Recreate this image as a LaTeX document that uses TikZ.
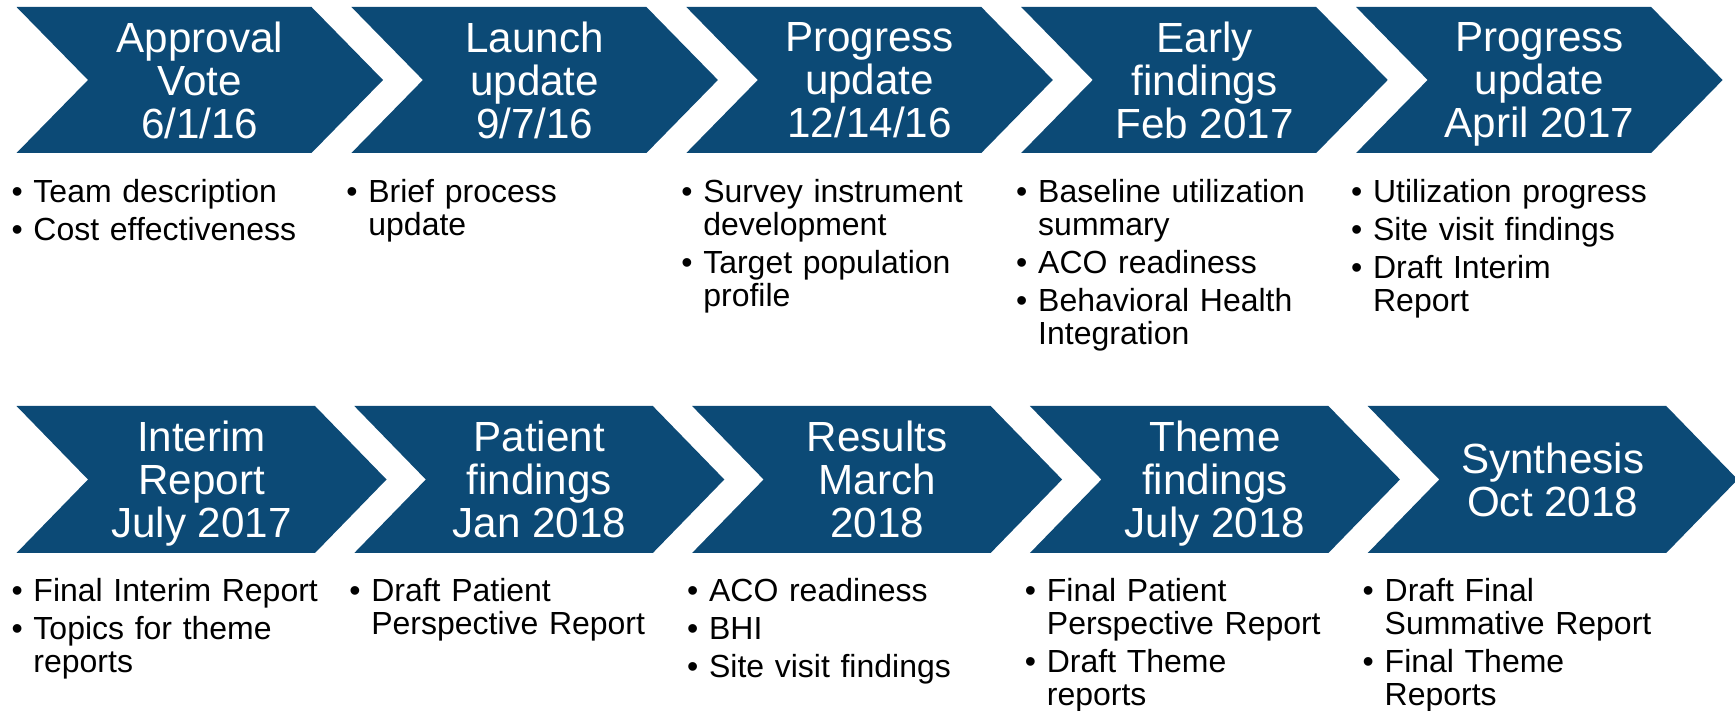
\documentclass[tikz,border=0pt]{standalone}
\usepackage{fontspec}
\setmainfont{Liberation Sans}
\usepackage{tikz}
\usetikzlibrary{positioning}

\definecolor{chevblue}{RGB}{12,74,118}

\newcommand{\bul}[1]{\par\hangindent=0.22cm\hangafter=1\noindent\makebox[0.22cm][l]{\textbullet}#1\par}

\tikzset{
  chev/.style={minimum width=3.665cm, minimum height=1.46cm, inner sep=0pt,
    align=center, text=white, text depth=0pt, font=\fontsize{12}{12.2}\selectfont,
    path picture={\fill[chevblue] (path picture bounding box.north west)
      -- ([xshift=-0.715cm]path picture bounding box.north east)
      -- (path picture bounding box.east)
      -- ([xshift=-0.715cm]path picture bounding box.south east)
      -- (path picture bounding box.south west)
      -- ([xshift=0.715cm]path picture bounding box.west) -- cycle;}},
  notes/.style={inner sep=0pt, text width=3.4cm, align=left, xshift=-0.05cm,
    font=\fontsize{9.1}{9.4}\selectfont\setlength{\parskip}{1.5pt}},
}

\begin{document}
\begin{tikzpicture}
\useasboundingbox (0,0) rectangle (17.35,-7.11);

% top row
\node (approval) [chev] at (1.9975,-0.80) {Approval\\Vote\\6/1/16};
\node (launch) [chev, right=-0.33cm of approval] {Launch\\update\\9/7/16};
\node (progress1) [chev, right=-0.33cm of launch] {Progress\\update\\12/14/16};
\node (early) [chev, right=-0.33cm of progress1] {Early\\findings\\Feb 2017};
\node (progress2) [chev, right=-0.33cm of early] {Progress\\update\\April 2017};

\node (approval-notes) [notes, below=0.095cm of approval.south west, anchor=north west]
  {\bul{Team description}\bul{Cost effectiveness}};
\node (launch-notes) [notes, below=0.095cm of launch.south west, anchor=north west]
  {\bul{Brief process\newline update}};
\node (progress1-notes) [notes, below=0.095cm of progress1.south west, anchor=north west]
  {\bul{Survey instrument\newline development}\bul{Target population\newline profile}};
\node (early-notes) [notes, below=0.095cm of early.south west, anchor=north west]
  {\bul{Baseline utilization\newline summary}\bul{ACO readiness}\bul{Behavioral Health\newline Integration}};
\node (progress2-notes) [notes, below=0.095cm of progress2.south west, anchor=north west]
  {\bul{Utilization progress}\bul{Site visit findings}\bul{Draft Interim\newline Report}};

% bottom row
\node (interim) [chev, minimum width=3.70cm, minimum height=1.47cm] at (2.015,-4.795)
  {Interim\\Report\\July 2017};
\node (patient) [chev, minimum width=3.70cm, minimum height=1.47cm,
  right=-0.336cm of interim] {Patient\\findings\\Jan 2018};
\node (results) [chev, minimum width=3.70cm, minimum height=1.47cm,
  right=-0.336cm of patient] {Results\\March\\2018};
\node (theme) [chev, minimum width=3.70cm, minimum height=1.47cm,
  right=-0.336cm of results] {Theme\\findings\\July 2018};
\node (synthesis) [chev, minimum width=3.70cm, minimum height=1.47cm,
  right=-0.336cm of theme] {Synthesis\\Oct 2018};

\node (interim-notes) [notes, below=0.085cm of interim.south west, anchor=north west]
  {\bul{Final Interim Report}\bul{Topics for theme\newline reports}};
\node (patient-notes) [notes, below=0.085cm of patient.south west, anchor=north west]
  {\bul{Draft Patient\newline Perspective Report}};
\node (results-notes) [notes, below=0.085cm of results.south west, anchor=north west]
  {\bul{ACO readiness}\bul{BHI}\bul{Site visit findings}};
\node (theme-notes) [notes, below=0.085cm of theme.south west, anchor=north west]
  {\bul{Final Patient\newline Perspective Report}\bul{Draft Theme\newline reports}};
\node (synthesis-notes) [notes, below=0.085cm of synthesis.south west, anchor=north west]
  {\bul{Draft Final\newline Summative Report}\bul{Final Theme\newline Reports}};
\end{tikzpicture}
\end{document}
